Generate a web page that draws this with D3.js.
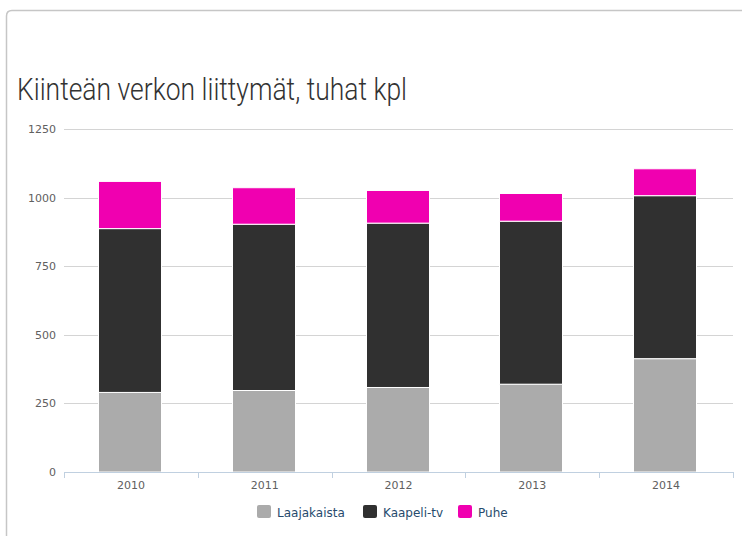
<!DOCTYPE html>
<html>
<head>
<meta charset="utf-8">
<script src="https://cdn.jsdelivr.net/npm/d3@7"></script>
<style>
  html, body { margin: 0; padding: 0; background: #fff; overflow: hidden; }
  svg { display: block; }
</style>
</head>
<body>
<div id="chart"></div>
<script>
var years = ["2010", "2011", "2012", "2013", "2014"];
var seriesNames = ["Laajakaista", "Kaapeli-tv", "Puhe"];
var laajakaista = [290, 297, 308, 320, 413];
var kaapeliTv = [597, 606, 599, 594, 594];
var puhe = [172, 133, 119, 101, 98];
var yTicks = [0, 250, 500, 750, 1000, 1250];
var colors = ["#ababab", "#303030", "#f000b0"];

var width = 742, height = 536;
var margin = { left: 64, right: 9, top: 129, bottom: 64 };

var svg = d3.select("#chart")
    .append("svg")
    .attr("width", width)
    .attr("height", height);

// card outline
svg.append("path")
    .attr("d", "M6.5,536 L6.5,16 Q6.5,10.5 12,10.5 L742,10.5")
    .attr("fill", "none")
    .attr("stroke", "#c6c6c6")
    .attr("stroke-width", 1.5);

svg.append("text")
    .attr("x", 17)
    .attr("y", 100)
    .attr("font-family", "Roboto")
    .attr("font-weight", 300)
    .attr("font-size", 32)
    .attr("fill", "#333")
    .attr("textLength", 390)
    .attr("lengthAdjust", "spacingAndGlyphs")
    .text("Kiinteän verkon liittymät, tuhat kpl");

var x = d3.scaleBand()
    .domain(years)
    .range([margin.left, width - margin.right])
    .paddingInner(0)
    .paddingOuter(0);

var y = d3.scaleLinear()
    .domain([0, 1250])
    .range([height - margin.bottom, margin.top]);

// grid
svg.append("g")
    .selectAll("line")
    .data(yTicks.filter(function(d) { return d > 0; }))
    .enter()
    .append("line")
    .attr("x1", margin.left)
    .attr("x2", width - margin.right)
    .attr("y1", function(d) { return Math.round(y(d)) + 0.5; })
    .attr("y2", function(d) { return Math.round(y(d)) + 0.5; })
    .attr("stroke", "#d4d4d4")
    .attr("stroke-width", 1);

// y labels
svg.append("g")
    .selectAll("text")
    .data(yTicks)
    .enter()
    .append("text")
    .attr("x", margin.left - 8)
    .attr("y", function(d) { return y(d) + 4; })
    .attr("text-anchor", "end")
    .attr("font-family", "DejaVu Sans")
    .attr("font-size", 11)
    .attr("fill", "#606060")
    .text(function(d) { return d; });

// stacked bars
var rows = years.map(function(yr, i) {
    return { year: yr, Laajakaista: laajakaista[i], "Kaapeli-tv": kaapeliTv[i], Puhe: puhe[i] };
});
var stacked = d3.stack().keys(seriesNames)(rows);
var barW = 63;

svg.append("g")
    .selectAll("g")
    .data(stacked)
    .enter()
    .append("g")
    .attr("fill", function(d, i) { return colors[i]; })
    .selectAll("rect")
    .data(function(d) { return d; })
    .enter()
    .append("rect")
    .attr("x", function(d) { return Math.floor(x(d.data.year) + x.bandwidth() / 2 - barW / 2) - 0.5; })
    .attr("width", barW)
    .attr("y", function(d) { return y(d[1]); })
    .attr("height", function(d) { return y(d[0]) - y(d[1]); })
    .attr("stroke", "#fff")
    .attr("stroke-width", 1);

// x axis
var xAxis = svg.append("g")
    .attr("transform", "translate(0," + (height - margin.bottom) + ")");
xAxis.append("line")
    .attr("x1", margin.left)
    .attr("x2", width - margin.right)
    .attr("y1", 0.5)
    .attr("y2", 0.5)
    .attr("stroke", "#c0d0e0");
var bounds = years.map(function(yr) { return x(yr); }).concat([x(years[years.length - 1]) + x.bandwidth()]);
xAxis.selectAll(".tick")
    .data(bounds)
    .enter()
    .append("line")
    .attr("x1", function(d) { return Math.round(d) + 0.5; })
    .attr("x2", function(d) { return Math.round(d) + 0.5; })
    .attr("y1", 0)
    .attr("y2", 6)
    .attr("stroke", "#c0d0e0");
xAxis.selectAll("text")
    .data(years)
    .enter()
    .append("text")
    .attr("x", function(d) { return x(d) + x.bandwidth() / 2; })
    .attr("y", 17)
    .attr("text-anchor", "middle")
    .attr("font-family", "DejaVu Sans")
    .attr("font-size", 11)
    .attr("fill", "#606060")
    .text(function(d) { return d; });

// legend
var legendX = [257, 363, 458];
var legend = svg.append("g")
    .selectAll("g")
    .data(seriesNames)
    .enter()
    .append("g")
    .attr("transform", function(d, i) { return "translate(" + legendX[i] + ",505)"; });
legend.append("rect")
    .attr("width", 14)
    .attr("height", 13)
    .attr("rx", 2)
    .attr("fill", function(d, i) { return colors[i]; });
legend.append("text")
    .attr("x", 20)
    .attr("y", 11.5)
    .attr("font-family", "DejaVu Sans")
    .attr("font-size", 12)
    .attr("fill", "#274b6d")
    .text(function(d) { return d; });
</script>
</body>
</html>
